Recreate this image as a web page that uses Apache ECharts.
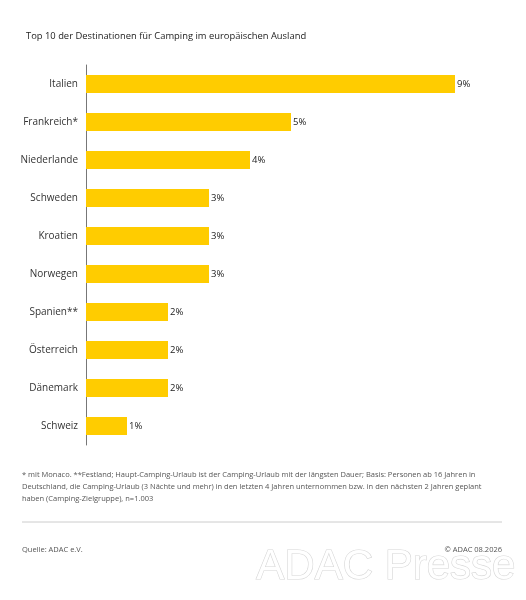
<!DOCTYPE html>
<html style="height: 100%">
<head>
<meta charset="utf-8">
<script src="https://cdn.jsdelivr.net/npm/echarts@6/dist/echarts.min.js"></script>
</head>
<body style="height: 100%; margin: 0; background: #fff">
<div id="container" style="width: 526px; height: 600px"></div>
<script>
var categories = ['Italien', 'Frankreich*', 'Niederlande', 'Schweden', 'Kroatien', 'Norwegen', 'Spanien**', 'Österreich', 'Dänemark', 'Schweiz'];
var values = [9, 5, 4, 3, 3, 3, 2, 2, 2, 1];

var footnote = '* mit Monaco. **Festland; Haupt-Camping-Urlaub ist der Camping-Urlaub mit der längsten Dauer; Basis: Personen ab 16 Jahren in\n' +
    'Deutschland, die Camping-Urlaub (3 Nächte und mehr) in den letzten 4 Jahren unternommen bzw. in den nächsten 2 Jahren geplant\n' +
    'haben (Camping-Zielgruppe), n=1.003';

var font = '"Open Sans", "Noto Sans", sans-serif';
var myChart = echarts.init(document.getElementById('container'));

var option = {
    backgroundColor: '#fff',
    animation: false,
    title: {
        text: 'Top 10 der Destinationen für Camping im europäischen Ausland',
        left: 21,
        top: 27,
        textStyle: { fontSize: 9.4, fontWeight: 'normal', color: '#222', fontFamily: font }
    },
    grid: { left: 86, top: 65, width: 410, height: 380, containLabel: false },
    xAxis: {
        type: 'value',
        min: 0,
        max: 10,
        show: false
    },
    yAxis: {
        type: 'category',
        data: categories,
        inverse: true,
        axisLine: { show: true, lineStyle: { color: '#777', width: 1 } },
        axisTick: { show: false },
        axisLabel: { fontSize: 10, color: '#333', margin: 8, fontFamily: font }
    },
    series: [{
        type: 'bar',
        data: values,
        barCategoryGap: '52%',
        itemStyle: { color: '#FFCC00' },
        label: {
            show: true,
            position: 'right',
            distance: 2,
            formatter: '{c}%',
            fontSize: 9.5,
            color: '#222',
            fontFamily: font
        }
    }],
    graphic: [
        {
            type: 'text', left: 22, top: 469,
            style: { text: footnote, fontSize: 7.5, lineHeight: 12, fill: '#555', fontFamily: font }
        },
        {
            type: 'line', shape: { x1: 22, y1: 522, x2: 502, y2: 522 },
            style: { stroke: '#ccc', lineWidth: 1 }
        },
        {
            type: 'text', left: 22, top: 546,
            style: { text: 'Quelle: ADAC e.V.', fontSize: 7.5, fill: '#555', fontFamily: font }
        },
        {
            type: 'text', right: 24, top: 546,
            style: { text: '© ADAC 08.2026', fontSize: 7.5, fill: '#555', fontFamily: font }
        },
        {
            type: 'text', right: 10, top: 546,
            style: { text: 'ADAC Presse', fontSize: 42, fill: '#fff', stroke: '#d6d6d6', lineWidth: 1.2, fontFamily: '"Liberation Sans Narrow", "Liberation Sans", sans-serif' }
        }
    ]
};

myChart.setOption(option);
</script>
</body>
</html>
